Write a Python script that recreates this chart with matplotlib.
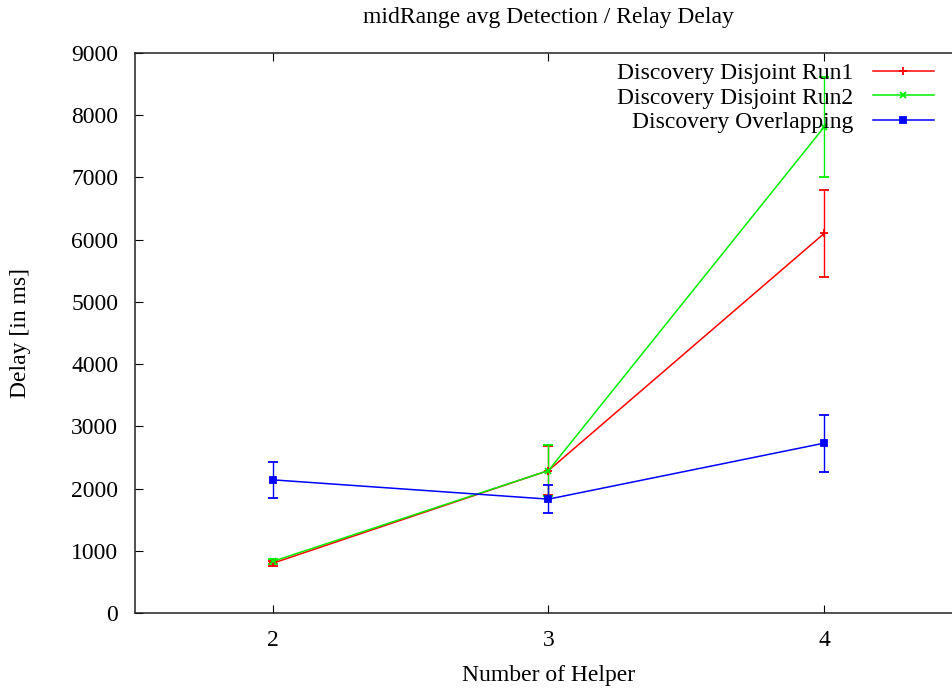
import matplotlib
matplotlib.use("Agg")
import matplotlib.pyplot as plt
from matplotlib.lines import Line2D

plt.rcParams["font.family"] = ["Liberation Serif", "DejaVu Serif"]

helpers = [2, 3, 4]

run1_delay = [800, 2290, 6100]
run1_err = [40, 400, 700]

run2_delay = [830, 2290, 7810]
run2_err = [40, 410, 810]

overlap_delay = [2140, 1830, 2730]
overlap_err = [290, 220, 460]

series = [
    ("Discovery Disjoint Run1", run1_delay, run1_err, "#ff0000", "+", 6),
    ("Discovery Disjoint Run2", run2_delay, run2_err, "#00ee00", "x", 5),
    ("Discovery Overlapping", overlap_delay, overlap_err, "#0000ff", "s", 4.5),
]

fig = plt.figure(figsize=(9.52, 6.88), dpi=100)
ax = fig.add_axes([135 / 952, 1 - 613 / 688, (962 - 135) / 952, (613 - 53) / 688])

handles = []
for label, y, err, color, marker, ms in series:
    ax.errorbar(helpers, y, yerr=err, color=color, marker=marker, markersize=ms,
                linewidth=1.1, elinewidth=1.0, capsize=3.5, capthick=1.0,
                markeredgewidth=1.3)
    handles.append(Line2D([], [], color=color, marker=marker, markersize=ms,
                          linewidth=1.1, markeredgewidth=1.3, label=label))

ax.set_xlim(1.5, 4.5)
ax.set_ylim(0, 9000)
ax.set_xticks(helpers)
ax.set_yticks(range(0, 9001, 1000))
ax.tick_params(direction="in", top=True, right=True, labelsize=17, length=6, pad=12)
for spine in ax.spines.values():
    spine.set_linewidth(1.1)
    spine.set_color("#222222")

ax.set_xlabel("Number of Helper", fontsize=17)
ax.set_ylabel("Delay [in ms]", fontsize=17)
ax.yaxis.set_label_coords(-(135 - 20) / (962 - 135), 0.5)
ax.xaxis.set_label_coords(0.5, -(675 - 613) / (613 - 53))
ax.xaxis.label.set_va("center")
ax.yaxis.label.set_va("center")
fig.text(548 / 952, 1 - 18 / 688, "midRange avg Detection / Relay Delay",
         fontsize=17, ha="center", va="center")

ax.legend(handles=handles, loc="upper right", bbox_to_anchor=(0.986, 1.012),
          frameon=False, markerfirst=False, fontsize=17, handlelength=2.6,
          labelspacing=0.12, borderaxespad=0.3, handletextpad=0.8)

fig.savefig("out.png", dpi=100)
